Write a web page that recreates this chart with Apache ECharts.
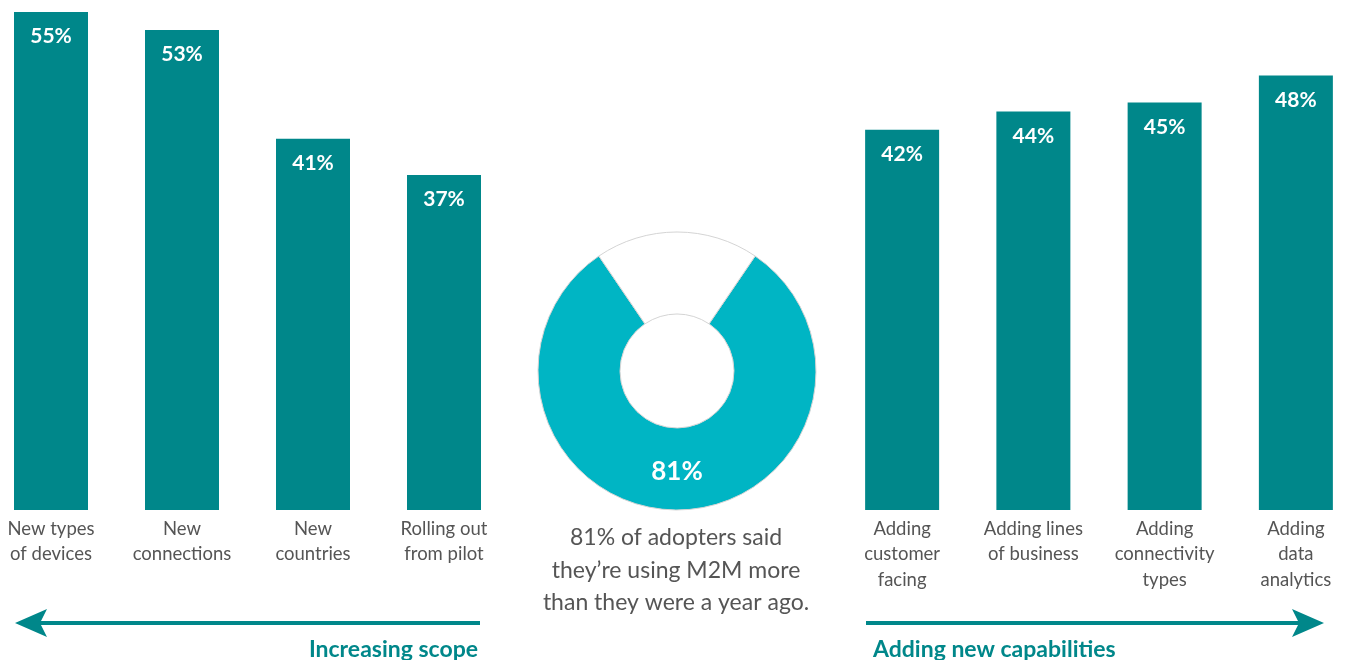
<!DOCTYPE html>
<html><head><meta charset="utf-8">
<script src="https://cdn.jsdelivr.net/npm/echarts@6/dist/echarts.min.js"></script>
<style>html,body{margin:0;padding:0;background:#fff}#c{width:1348px;height:660px}</style>
</head><body><div id="c"></div>
<script>
const scopeCategories = ['New types\nof devices', 'New\nconnections', 'New\ncountries', 'Rolling out\nfrom pilot'];
const scopeValues = [55, 53, 41, 37];
const capabilityCategories = ['Adding\ncustomer\nfacing', 'Adding lines\nof business', 'Adding\nconnectivity\ntypes', 'Adding\ndata\nanalytics'];
const capabilityValues = [42, 44, 45, 48];
const donutNames = ['Using M2M more', 'Other'];
const donutValues = [81, 19];
const captionLines = ['81% of adopters said', 'they\u2019re using M2M more', 'than they were a year ago.'];
const scopeTitle = 'Increasing scope';
const capabilityTitle = 'Adding new capabilities';

const TEAL = '#00878a';
const CYAN = '#00b5c4';
const FONT = 'Lato, "Noto Sans", sans-serif';

const chart = echarts.init(document.getElementById('c'));

function catAxis(idx, cats) {
  return {
    type: 'category', gridIndex: idx, data: cats,
    axisLine: {show: false}, axisTick: {show: false},
    axisLabel: {color: '#555', fontSize: 18.5, lineHeight: 25.5, fontFamily: FONT, margin: 6, interval: 0}
  };
}
function valAxis(idx) {
  return {type: 'value', gridIndex: idx, min: 0, max: 55, show: false, splitLine: {show: false}};
}
function barSeries(idx, vals) {
  return {
    type: 'bar', xAxisIndex: idx, yAxisIndex: idx, data: vals, barWidth: 74,
    itemStyle: {color: TEAL},
    label: {show: true, position: 'insideTop', distance: 14, color: '#fff', fontSize: 21,
      fontWeight: 'bold', fontFamily: FONT, formatter: '{c}%'},
    silent: true
  };
}

const arrowY = 623;
chart.setOption({
  animation: false,
  grid: [
    {left: -14.5, width: 524, top: 12, bottom: 150, outerBoundsMode: 'none', containLabel: false},
    {left: 836.5, width: 525, top: 12, bottom: 150, outerBoundsMode: 'none', containLabel: false}
  ],
  xAxis: [catAxis(0, scopeCategories), catAxis(1, capabilityCategories)],
  yAxis: [valAxis(0), valAxis(1)],
  series: [
    barSeries(0, scopeValues),
    barSeries(1, capabilityValues),
    {
      type: 'pie', center: [677, 371], radius: [57, 139], startAngle: 55.8, clockwise: true,
      silent: true, labelLine: {show: false},
      data: donutNames.map((n, i) => ({
        name: n, value: donutValues[i],
        itemStyle: {color: i === 0 ? CYAN : '#fff', borderColor: '#d4d4d4', borderWidth: 1},
        label: i === 0 ? {show: true, position: 'inside', formatter: '{c}%', color: '#fff',
          fontSize: 26, fontWeight: 'bold', fontFamily: FONT} : {show: false}
      }))
    }
  ],
  graphic: [
    ...captionLines.map((t, i) => ({
      type: 'text', x: 676, y: 538 + i * 32.5,
      style: {text: t, fill: '#555', fontSize: 23, fontFamily: FONT, align: 'center', verticalAlign: 'middle'}
    })),
    {type: 'line', shape: {x1: 40, y1: arrowY, x2: 480, y2: arrowY}, style: {stroke: TEAL, lineWidth: 4}},
    {type: 'polygon', shape: {points: [[15, arrowY], [47, arrowY - 14], [40, arrowY], [47, arrowY + 14]]}, style: {fill: TEAL}},
    {type: 'line', shape: {x1: 866, y1: arrowY, x2: 1300, y2: arrowY}, style: {stroke: TEAL, lineWidth: 4}},
    {type: 'polygon', shape: {points: [[1324, arrowY], [1292, arrowY - 14], [1299, arrowY], [1292, arrowY + 14]]}, style: {fill: TEAL}},
    {type: 'text', x: 478, y: 650, style: {text: scopeTitle, fill: TEAL, fontSize: 23, fontWeight: 'bold',
      fontFamily: FONT, align: 'right', verticalAlign: 'middle'}},
    {type: 'text', x: 873, y: 650, style: {text: capabilityTitle, fill: TEAL, fontSize: 23, fontWeight: 'bold',
      fontFamily: FONT, align: 'left', verticalAlign: 'middle'}}
  ]
});
</script></body></html>
